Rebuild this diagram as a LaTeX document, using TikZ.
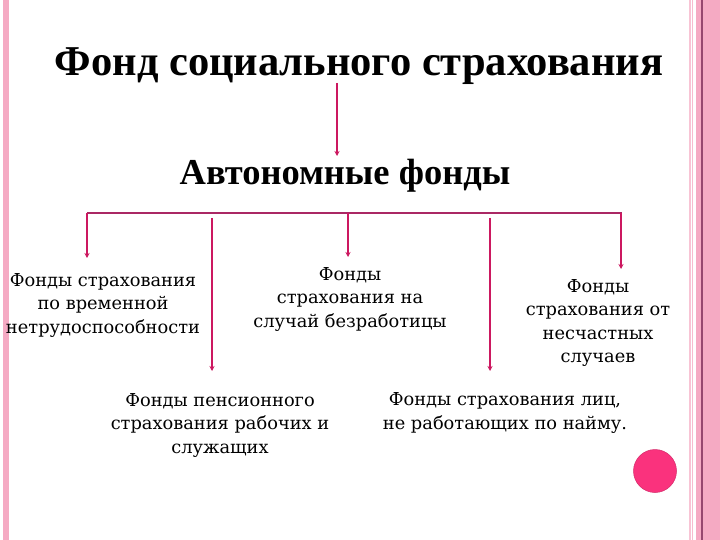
\documentclass[tikz,border=0pt]{standalone}
\usepackage{fontspec}
\setmainfont{DejaVu Serif}
\newfontfamily\titlefont{Liberation Serif}
\usetikzlibrary{arrows.meta}
\definecolor{arrowc}{RGB}{204,24,96}
\definecolor{hlinec}{RGB}{170,40,100}
\definecolor{stripe}{RGB}{245,170,195}
\definecolor{stripedark}{RGB}{150,70,110}
\definecolor{dotc}{RGB}{250,50,125}
\tikzset{
  conn/.style={draw=arrowc, line width=1.3pt, -{Stealth[length=5pt,width=5pt]}},
  bar/.style={draw=hlinec, line width=1.3pt},
  body/.style={align=center, font=\fontsize{17.8}{23.5}\selectfont, inner sep=0pt},
  head/.style={font=\titlefont\bfseries\fontsize{42.5}{44}\selectfont, inner sep=0pt},
}
\begin{document}
\begin{tikzpicture}[x=1pt,y=-1pt]
\useasboundingbox (0,0) rectangle (720,540);
\fill[white] (0,0) rectangle (720,540);
% side stripes
\fill[stripe] (3,0) rectangle (9,540);
\fill[stripe!70] (689,0) rectangle (690.5,540);
\fill[stripe!80] (691.5,0) rectangle (693,540);
\fill[stripe] (696,0) rectangle (701,540);
\fill[stripedark] (701,0) rectangle (702.5,540);
\fill[stripe] (702.5,0) rectangle (720,540);
% title and second level
\node[head] (t) at (359,66) {Фонд социального страхования};
\node[head, font=\titlefont\bfseries\fontsize{36.5}{38}\selectfont] (a) at (345,176) {Автономные фонды};
\coordinate (t1) at (337,83);
\coordinate (a1) at (337,156);
\draw[conn] (t1) -- (a1);
% bar
\coordinate (bl) at (87,213);
\coordinate (br) at (622,213);
\draw[bar] (bl) -- (br);
% leaf texts
\node[body] (n1) at (103,305) {Фонды страхования\\по временной\\нетрудоспособности};
\node[body] (n2) at (350,299) {Фонды\\страхования на\\случай безработицы};
\node[body] (n3) at (598,323) {Фонды\\страхования от\\несчастных\\случаев};
\node[body] (n4) at (220,425) {Фонды пенсионного\\страхования рабочих и\\служащих};
\node[body] (n5) at (505,413) {Фонды страхования лиц,\\не работающих по найму.};
% arrows
\coordinate (s1) at (87,213); \coordinate (e1) at (87,258);
\coordinate (s2) at (212,218); \coordinate (e2) at (212,371);
\coordinate (s3) at (348,213); \coordinate (e3) at (348,257);
\coordinate (s4) at (490,218); \coordinate (e4) at (490,371);
\coordinate (s5) at (621,213); \coordinate (e5) at (621,269);
\draw[conn] (s1) -- (e1);
\draw[conn] (s2) -- (e2);
\draw[conn] (s3) -- (e3);
\draw[conn] (s4) -- (e4);
\draw[conn] (s5) -- (e5);
% dot
\fill[dotc, draw=dotc!85!black, line width=0.5pt] (655,471) circle (21.5);
\end{tikzpicture}
\end{document}
